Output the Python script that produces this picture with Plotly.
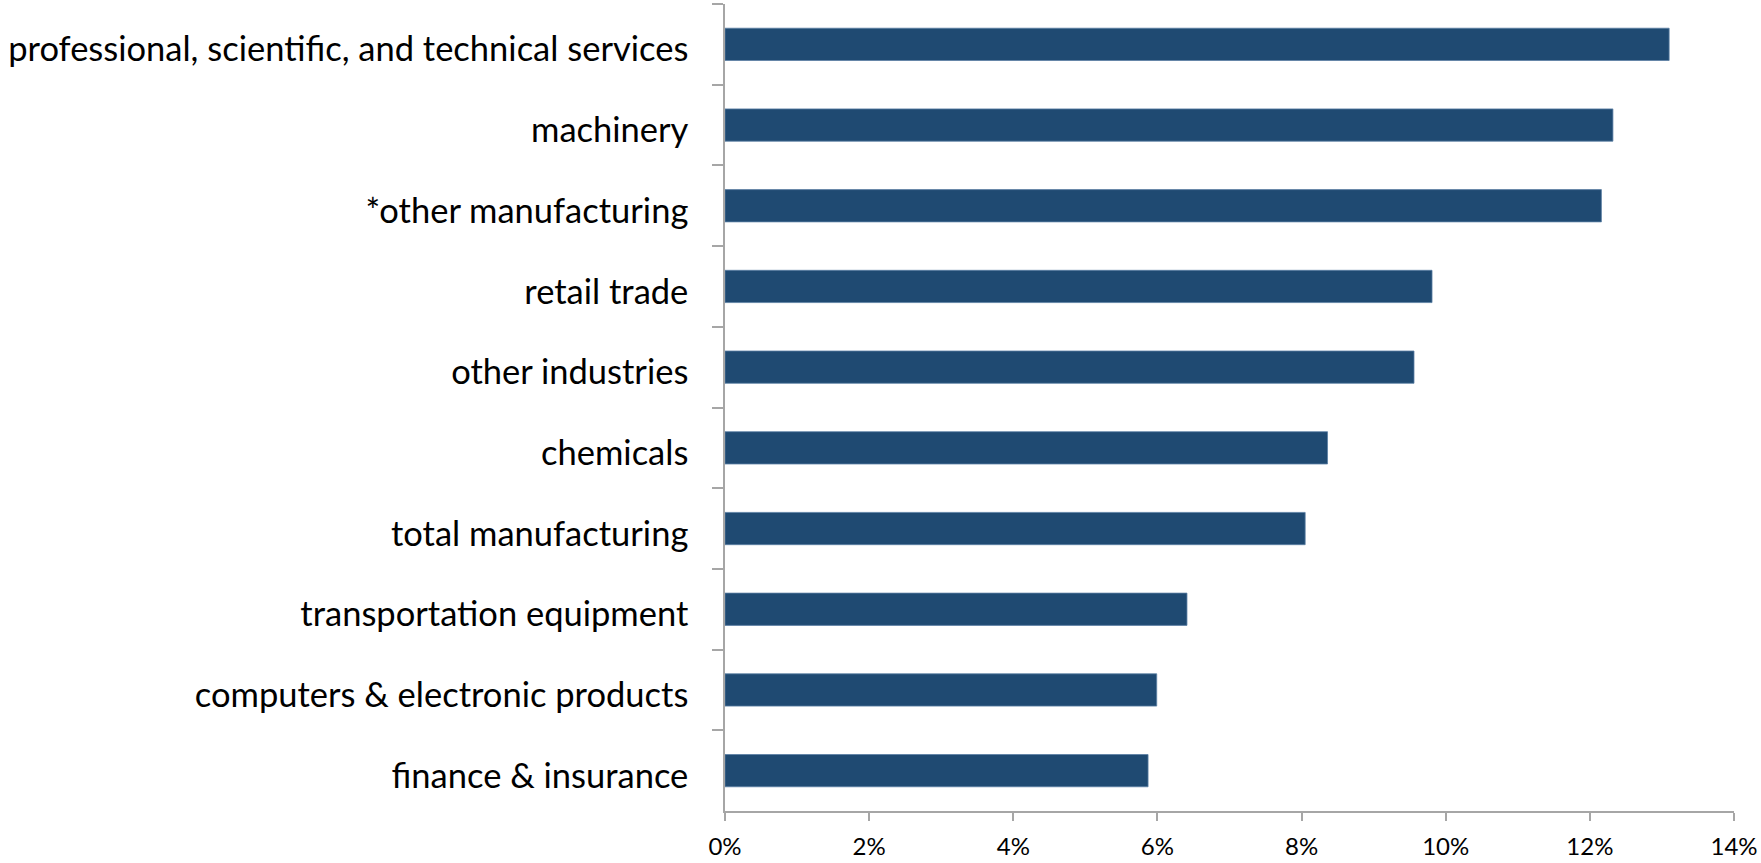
import plotly.graph_objects as go

categories = [
    "professional, scientific, and technical services",
    "machinery",
    "*other manufacturing",
    "retail trade",
    "other industries",
    "chemicals",
    "total manufacturing",
    "transportation equipment",
    "computers & electronic products",
    "finance & insurance",
]
values = [0.1310, 0.1232, 0.1216, 0.0981, 0.0956, 0.0836, 0.0805, 0.0641, 0.0599, 0.0587]
x_ticks = [0, 0.02, 0.04, 0.06, 0.08, 0.10, 0.12, 0.14]
x_tick_labels = ["0%", "2%", "4%", "6%", "8%", "10%", "12%", "14%"]

fig = go.Figure()
fig.add_trace(go.Bar(
    x=values, y=categories, orientation="h", width=0.4,
    marker=dict(color="#1f4a72", line=dict(color="#5a7fa3", width=0.8)),
))

axis_color = "#a6a6a6"
fig.update_layout(
    width=1761, height=863,
    margin=dict(l=725, r=27, t=4, b=52),
    plot_bgcolor="white", paper_bgcolor="white",
    showlegend=False,
    font=dict(family="Lato", color="black"),
    xaxis=dict(
        range=[0, 0.14], tickvals=x_ticks, ticktext=x_tick_labels,
        showgrid=False, zeroline=False,
        showline=True, linecolor=axis_color, linewidth=1.5,
        ticks="outside", ticklen=8, tickcolor=axis_color, tickwidth=1.5,
        tickfont=dict(size=24, family="Lato", color="black"),
        ticklabelstandoff=5,
        automargin=False,
    ),
    yaxis=dict(
        autorange="reversed", showgrid=False, zeroline=False,
        showline=True, linecolor=axis_color, linewidth=1.5,
        ticks="outside", ticklen=11, tickcolor=axis_color, tickwidth=1.5,
        tickson="boundaries",
        tickfont=dict(size=34.5, family="Lato", color="black"),
        ticklabelstandoff=28,
        ticklabelshift=-5,
        automargin=False,
    ),
)

fig.write_html("out.html")
